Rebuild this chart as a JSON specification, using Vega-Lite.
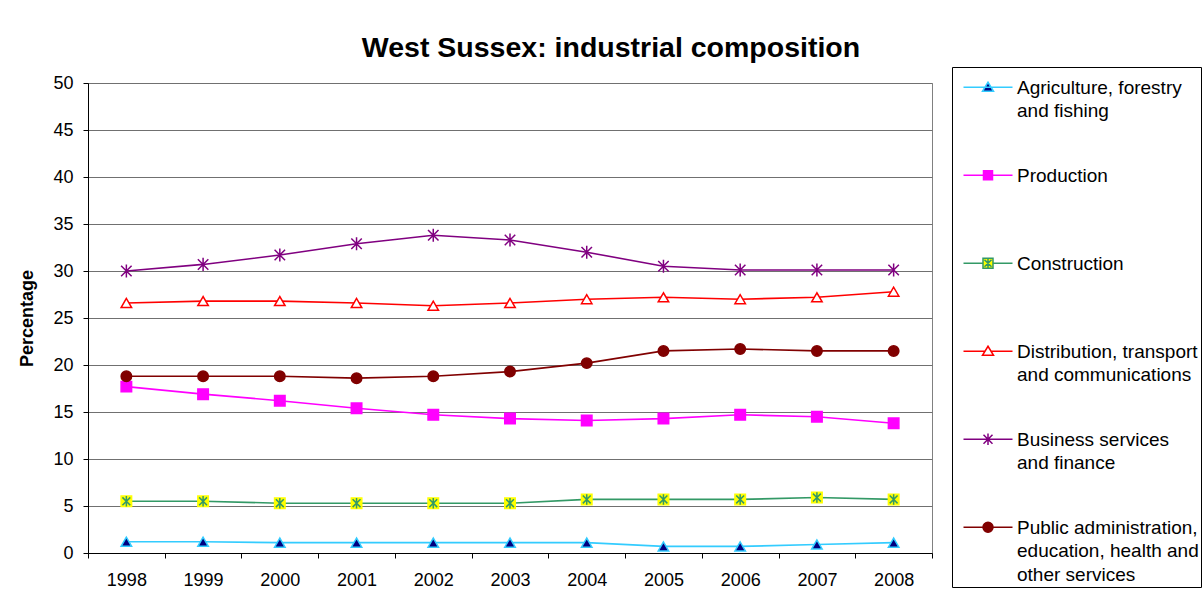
{
  "$schema": "https://vega.github.io/schema/vega-lite/v6.json",
  "autosize": {"type": "none"},
  "width": 844,
  "height": 470,
  "padding": {"left": 88, "top": 83, "right": 271, "bottom": 46},
  "background": "white",
  "config": {
    "font": "Liberation Sans",
    "view": {"stroke": "#808080", "strokeWidth": 1},
    "axis": {"labelFont": "Liberation Sans", "titleFont": "Liberation Sans", "labelColor": "black", "titleColor": "black"},
    "style": {"guide-label": {"lineHeight": 23.5}}
  },
  "title": {
    "text": "West Sussex: industrial composition",
    "font": "Liberation Sans",
    "fontSize": 28.5,
    "fontWeight": "bold",
    "color": "black",
    "anchor": "middle",
    "frame": "group",
    "dx": 101,
    "offset": 4
  },
  "data": {
    "values": [
      {"year": "1998", "series": "Agriculture, forestry and fishing", "value": 1.2},
      {"year": "1999", "series": "Agriculture, forestry and fishing", "value": 1.2},
      {"year": "2000", "series": "Agriculture, forestry and fishing", "value": 1.1},
      {"year": "2001", "series": "Agriculture, forestry and fishing", "value": 1.1},
      {"year": "2002", "series": "Agriculture, forestry and fishing", "value": 1.1},
      {"year": "2003", "series": "Agriculture, forestry and fishing", "value": 1.1},
      {"year": "2004", "series": "Agriculture, forestry and fishing", "value": 1.1},
      {"year": "2005", "series": "Agriculture, forestry and fishing", "value": 0.7},
      {"year": "2006", "series": "Agriculture, forestry and fishing", "value": 0.7},
      {"year": "2007", "series": "Agriculture, forestry and fishing", "value": 0.9},
      {"year": "2008", "series": "Agriculture, forestry and fishing", "value": 1.1},
      {"year": "1998", "series": "Production", "value": 17.7},
      {"year": "1999", "series": "Production", "value": 16.9},
      {"year": "2000", "series": "Production", "value": 16.2},
      {"year": "2001", "series": "Production", "value": 15.4},
      {"year": "2002", "series": "Production", "value": 14.7},
      {"year": "2003", "series": "Production", "value": 14.3},
      {"year": "2004", "series": "Production", "value": 14.1},
      {"year": "2005", "series": "Production", "value": 14.3},
      {"year": "2006", "series": "Production", "value": 14.7},
      {"year": "2007", "series": "Production", "value": 14.5},
      {"year": "2008", "series": "Production", "value": 13.8},
      {"year": "1998", "series": "Construction", "value": 5.5},
      {"year": "1999", "series": "Construction", "value": 5.5},
      {"year": "2000", "series": "Construction", "value": 5.3},
      {"year": "2001", "series": "Construction", "value": 5.3},
      {"year": "2002", "series": "Construction", "value": 5.3},
      {"year": "2003", "series": "Construction", "value": 5.3},
      {"year": "2004", "series": "Construction", "value": 5.7},
      {"year": "2005", "series": "Construction", "value": 5.7},
      {"year": "2006", "series": "Construction", "value": 5.7},
      {"year": "2007", "series": "Construction", "value": 5.9},
      {"year": "2008", "series": "Construction", "value": 5.7},
      {"year": "1998", "series": "Distribution, transport and communications", "value": 26.6},
      {"year": "1999", "series": "Distribution, transport and communications", "value": 26.8},
      {"year": "2000", "series": "Distribution, transport and communications", "value": 26.8},
      {"year": "2001", "series": "Distribution, transport and communications", "value": 26.6},
      {"year": "2002", "series": "Distribution, transport and communications", "value": 26.3},
      {"year": "2003", "series": "Distribution, transport and communications", "value": 26.6},
      {"year": "2004", "series": "Distribution, transport and communications", "value": 27.0},
      {"year": "2005", "series": "Distribution, transport and communications", "value": 27.2},
      {"year": "2006", "series": "Distribution, transport and communications", "value": 27.0},
      {"year": "2007", "series": "Distribution, transport and communications", "value": 27.2},
      {"year": "2008", "series": "Distribution, transport and communications", "value": 27.8},
      {"year": "1998", "series": "Business services and finance", "value": 30.0},
      {"year": "1999", "series": "Business services and finance", "value": 30.7},
      {"year": "2000", "series": "Business services and finance", "value": 31.7},
      {"year": "2001", "series": "Business services and finance", "value": 32.9},
      {"year": "2002", "series": "Business services and finance", "value": 33.8},
      {"year": "2003", "series": "Business services and finance", "value": 33.3},
      {"year": "2004", "series": "Business services and finance", "value": 32.0},
      {"year": "2005", "series": "Business services and finance", "value": 30.5},
      {"year": "2006", "series": "Business services and finance", "value": 30.1},
      {"year": "2007", "series": "Business services and finance", "value": 30.1},
      {"year": "2008", "series": "Business services and finance", "value": 30.1},
      {"year": "1998", "series": "Public administration, education, health and other services", "value": 18.8},
      {"year": "1999", "series": "Public administration, education, health and other services", "value": 18.8},
      {"year": "2000", "series": "Public administration, education, health and other services", "value": 18.8},
      {"year": "2001", "series": "Public administration, education, health and other services", "value": 18.6},
      {"year": "2002", "series": "Public administration, education, health and other services", "value": 18.8},
      {"year": "2003", "series": "Public administration, education, health and other services", "value": 19.3},
      {"year": "2004", "series": "Public administration, education, health and other services", "value": 20.2},
      {"year": "2005", "series": "Public administration, education, health and other services", "value": 21.5},
      {"year": "2006", "series": "Public administration, education, health and other services", "value": 21.7},
      {"year": "2007", "series": "Public administration, education, health and other services", "value": 21.5},
      {"year": "2008", "series": "Public administration, education, health and other services", "value": 21.5}
    ]
  },
  "encoding": {
    "x": {
      "field": "year",
      "type": "ordinal",
      "scale": {"type": "band", "paddingInner": 0, "paddingOuter": 0},
      "axis": {
        "title": null,
        "labelAngle": 0,
        "labelFontSize": 18,
        "labelPadding": 13,
        "tickBand": "extent",
        "tickSize": 5,
        "tickColor": "black",
        "domainColor": "black",
        "grid": false
      }
    },
    "y": {
      "field": "value",
      "type": "quantitative",
      "scale": {"domain": [0, 50], "nice": false, "zero": true},
      "axis": {
        "title": "Percentage",
        "titleFontSize": 18,
        "titleFontWeight": "bold",
        "titlePadding": 16,
        "values": [0, 5, 10, 15, 20, 25, 30, 35, 40, 45, 50],
        "labelFontSize": 18,
        "labelPadding": 10,
        "tickSize": 5,
        "tickColor": "black",
        "domainColor": "black",
        "grid": true,
        "gridColor": "#707070",
        "gridWidth": 1
      }
    }
  },
  "layer": [
    {
      "mark": {"type": "line", "strokeWidth": 1.6},
      "encoding": {
        "stroke": {
          "field": "series",
          "type": "nominal",
          "legend": null,
          "scale": {
            "domain": ["Agriculture, forestry and fishing", "Production", "Construction", "Distribution, transport and communications", "Business services and finance", "Public administration, education, health and other services"],
            "range": ["#33CCFF", "#FF00FF", "#339966", "#FF0000", "#800080", "#800000"]
          }
        }
      }
    },
    {
      "mark": {"type": "point", "filled": true, "size": 110, "strokeWidth": 1.5, "opacity": 1},
      "encoding": {
        "shape": {
          "field": "series",
          "type": "nominal",
          "legend": null,
          "scale": {
            "domain": ["Agriculture, forestry and fishing", "Production", "Construction", "Distribution, transport and communications", "Business services and finance", "Public administration, education, health and other services"],
            "range": ["triangle-up", "square", "square", "triangle-up", "M-1,-1L1,1M-1,1L1,-1M0,-1.25V1.25", "circle"]
          }
        },
        "fill": {
          "field": "series",
          "type": "nominal",
          "legend": null,
          "scale": {
            "domain": ["Agriculture, forestry and fishing", "Production", "Construction", "Distribution, transport and communications", "Business services and finance", "Public administration, education, health and other services"],
            "range": ["#000080", "#FF00FF", "#FFFF00", "#FFFFFF", "#800080", "#800000"]
          }
        },
        "stroke": {
          "field": "series",
          "type": "nominal",
          "legend": null,
          "scale": {
            "domain": ["Agriculture, forestry and fishing", "Production", "Construction", "Distribution, transport and communications", "Business services and finance", "Public administration, education, health and other services"],
            "range": ["#33CCFF", "#FF00FF", "#FFFF00", "#FF0000", "#800080", "#800000"]
          }
        }
      }
    },
    {
      "transform": [{"filter": "datum.series == 'Construction'"}],
      "mark": {"type": "point", "filled": false, "size": 110, "strokeWidth": 1.5, "opacity": 1, "color": "#339966", "shape": "M-0.75,-0.75L0.75,0.75M-0.75,0.75L0.75,-0.75M0,-1V1"}
    },
    {
      "mark": {"type": "point", "filled": true, "size": 100, "strokeWidth": 1.5, "opacity": 0},
      "encoding": {
        "shape": {
          "field": "series",
          "type": "nominal",
          "scale": {
            "domain": ["Agriculture, forestry and fishing", "Production", "Construction", "Distribution, transport and communications", "Business services and finance", "Public administration, education, health and other services"],
            "range": [
              "M0,1.75H9.8M4.9,0.75L6,2.55H3.8Z",
              "M0,1.75H9.8M4,0.85H5.8V2.65H4Z",
              "M0,1.75H3.9M5.9,1.75H9.8M3.9,0.75H5.9V2.75H3.9ZM4.2,1.05L5.6,2.45M4.2,2.45L5.6,1.05M4.9,0.85V2.65",
              "M0,1.75H4.29M5.51,1.75H9.8M4.9,0.75L6,2.55H3.8Z",
              "M0,1.75H9.8M4,0.85L5.8,2.65M4,2.65L5.8,0.85M4.9,0.6V2.9",
              "M0,1.75H9.8M3.9,1.75A1,1,0,1,1,5.9,1.75A1,1,0,1,1,3.9,1.75Z"
            ]
          },
          "legend": {
            "title": null,
            "orient": "none",
            "legendX": 864,
            "legendY": -16,
            "direction": "vertical",
            "padding": 2,
            "strokeColor": "black",
            "fillColor": "white",
            "symbolSize": 100,
            "symbolOpacity": 1,
            "symbolStrokeWidth": 1.5,
            "labelFont": "Liberation Sans",
            "labelFontSize": 19,
            "labelColor": "black",
            "labelLimit": 400,
            "labelOffset": 44,
            "labelBaseline": "top",
            "rowPadding": 12,
            "gridAlign": "all",
            "labelExpr": "datum.label == 'Agriculture, forestry and fishing' ? ['Agriculture, forestry', 'and fishing'] : datum.label == 'Distribution, transport and communications' ? ['Distribution, transport', 'and communications'] : datum.label == 'Business services and finance' ? ['Business services', 'and finance'] : datum.label == 'Public administration, education, health and other services' ? ['Public administration,', 'education, health and', 'other services'] : datum.label"
          }
        },
        "fill": {
          "field": "series",
          "type": "nominal",
          "scale": {
            "domain": ["Agriculture, forestry and fishing", "Production", "Construction", "Distribution, transport and communications", "Business services and finance", "Public administration, education, health and other services"],
            "range": ["#000080", "#FF00FF", "#FFFF00", "#FFFFFF", "#800080", "#800000"]
          }
        },
        "stroke": {
          "field": "series",
          "type": "nominal",
          "scale": {
            "domain": ["Agriculture, forestry and fishing", "Production", "Construction", "Distribution, transport and communications", "Business services and finance", "Public administration, education, health and other services"],
            "range": ["#33CCFF", "#FF00FF", "#339966", "#FF0000", "#800080", "#800000"]
          }
        }
      }
    }
  ],
  "resolve": {"scale": {"shape": "independent", "fill": "independent", "stroke": "independent"}}
}
